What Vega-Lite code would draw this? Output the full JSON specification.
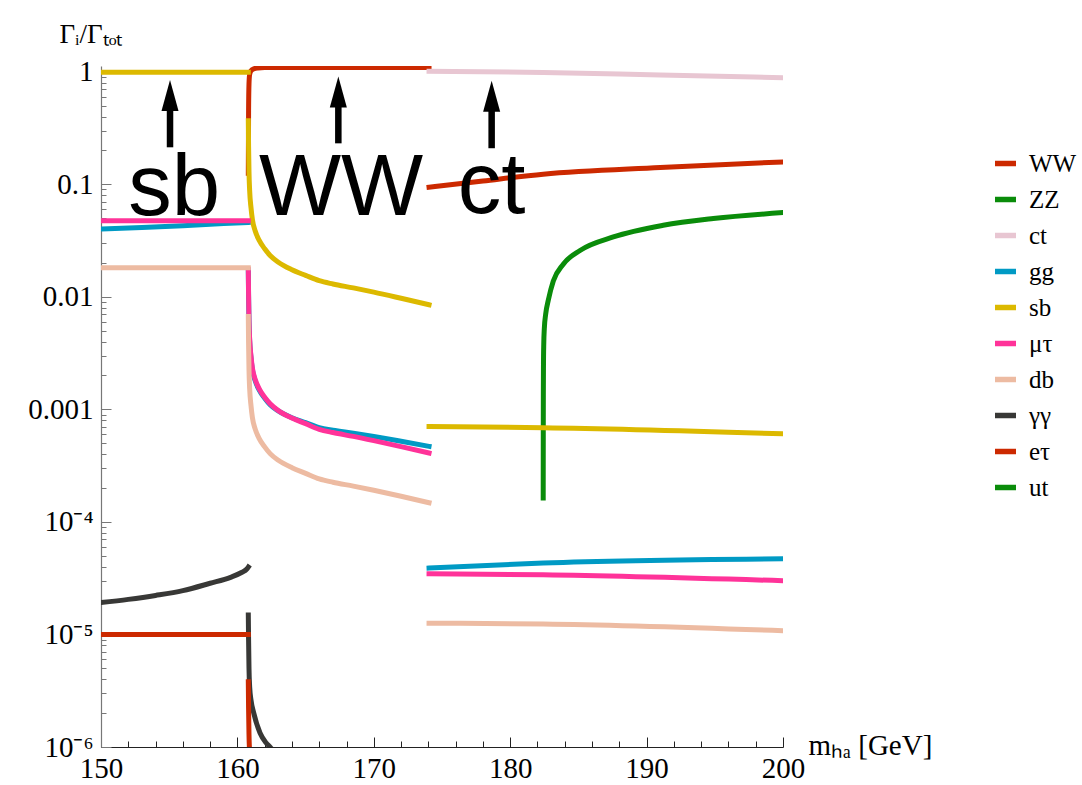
{
  "$schema": "https://vega.github.io/schema/vega-lite/v6.json",
  "autosize": {"type": "none"},
  "padding": {"left": 101, "top": 66, "right": 299, "bottom": 38},
  "width": 682,
  "height": 681,
  "background": "white",
  "config": {
    "view": {"stroke": null},
    "axis": {"grid": false, "labelFont": "Liberation Serif", "titleFont": "Liberation Serif", "labelColor": "black", "titleColor": "black", "titleFontWeight": "normal"},
    "legend": {"orient": "none", "legendX": 891, "legendY": 84, "symbolType": "stroke", "symbolStrokeWidth": 5.5, "symbolSize": 441, "labelFont": "Liberation Serif", "labelFontSize": 25, "labelColor": "black", "labelOffset": 10, "rowPadding": 9, "padding": 0, "title": null}
  },
  "resolve": {"axis": {"x": "independent"}},
  "datasets": {
    "curves": [
      {"s": "WW", "g": "WW2", "x": 160.80, "y": 0.125},
      {"s": "WW", "g": "WW2", "x": 160.82, "y": 0.45},
      {"s": "WW", "g": "WW2", "x": 160.85, "y": 0.78},
      {"s": "WW", "g": "WW2", "x": 160.90, "y": 0.95},
      {"s": "WW", "g": "WW2", "x": 161.00, "y": 1.02},
      {"s": "WW", "g": "WW2", "x": 161.20, "y": 1.06},
      {"s": "WW", "g": "WW2", "x": 161.50, "y": 1.08},
      {"s": "WW", "g": "WW2", "x": 162.00, "y": 1.09},
      {"s": "WW", "g": "WW2", "x": 174.05, "y": 1.09},
      {"s": "WW", "g": "WW3", "x": 174.05, "y": 0.094},
      {"s": "WW", "g": "WW3", "x": 178.00, "y": 0.107},
      {"s": "WW", "g": "WW3", "x": 182.42, "y": 0.123},
      {"s": "WW", "g": "WW3", "x": 191.00, "y": 0.141},
      {"s": "WW", "g": "WW3", "x": 200.00, "y": 0.158},
      {"s": "ZZ", "g": "ZZ3", "x": 182.420, "y": 0.000163},
      {"s": "ZZ", "g": "ZZ3", "x": 182.425, "y": 0.0006},
      {"s": "ZZ", "g": "ZZ3", "x": 182.430, "y": 0.0014},
      {"s": "ZZ", "g": "ZZ3", "x": 182.440, "y": 0.0025},
      {"s": "ZZ", "g": "ZZ3", "x": 182.460, "y": 0.0038},
      {"s": "ZZ", "g": "ZZ3", "x": 182.500, "y": 0.0052},
      {"s": "ZZ", "g": "ZZ3", "x": 182.600, "y": 0.0070},
      {"s": "ZZ", "g": "ZZ3", "x": 182.800, "y": 0.0094},
      {"s": "ZZ", "g": "ZZ3", "x": 183.160, "y": 0.0138},
      {"s": "ZZ", "g": "ZZ3", "x": 183.890, "y": 0.0195},
      {"s": "ZZ", "g": "ZZ3", "x": 185.120, "y": 0.0258},
      {"s": "ZZ", "g": "ZZ3", "x": 187.560, "y": 0.0340},
      {"s": "ZZ", "g": "ZZ3", "x": 191.220, "y": 0.0432},
      {"s": "ZZ", "g": "ZZ3", "x": 194.890, "y": 0.0496},
      {"s": "ZZ", "g": "ZZ3", "x": 200.000, "y": 0.0560},
      {"s": "ct", "g": "ct3", "x": 174.05, "y": 1.01},
      {"s": "ct", "g": "ct3", "x": 182.42, "y": 0.985},
      {"s": "ct", "g": "ct3", "x": 191.00, "y": 0.935},
      {"s": "ct", "g": "ct3", "x": 200.00, "y": 0.885},
      {"s": "gg", "g": "gg1", "x": 150.0, "y": 0.0401},
      {"s": "gg", "g": "gg1", "x": 153.0, "y": 0.0413},
      {"s": "gg", "g": "gg1", "x": 156.0, "y": 0.0428},
      {"s": "gg", "g": "gg1", "x": 159.0, "y": 0.0447},
      {"s": "gg", "g": "gg1", "x": 160.8, "y": 0.0458},
      {"s": "gg", "g": "gg2", "x": 160.80, "y": 0.01695},
      {"s": "gg", "g": "gg2", "x": 160.82, "y": 0.01008},
      {"s": "gg", "g": "gg2", "x": 160.85, "y": 0.00596},
      {"s": "gg", "g": "gg2", "x": 160.90, "y": 0.00404},
      {"s": "gg", "g": "gg2", "x": 161.00, "y": 0.00285},
      {"s": "gg", "g": "gg2", "x": 161.10, "y": 0.002254},
      {"s": "gg", "g": "gg2", "x": 161.30, "y": 0.001799},
      {"s": "gg", "g": "gg2", "x": 161.60, "y": 0.001482},
      {"s": "gg", "g": "gg2", "x": 162.00, "y": 0.001258},
      {"s": "gg", "g": "gg2", "x": 162.40, "y": 0.001101},
      {"s": "gg", "g": "gg2", "x": 163.00, "y": 0.000968},
      {"s": "gg", "g": "gg2", "x": 164.00, "y": 0.000843},
      {"s": "gg", "g": "gg2", "x": 165.00, "y": 0.000762},
      {"s": "gg", "g": "gg2", "x": 166.00, "y": 0.000689},
      {"s": "gg", "g": "gg2", "x": 167.00, "y": 0.000653},
      {"s": "gg", "g": "gg2", "x": 168.50, "y": 0.000615},
      {"s": "gg", "g": "gg2", "x": 170.00, "y": 0.000575},
      {"s": "gg", "g": "gg2", "x": 172.00, "y": 0.000521},
      {"s": "gg", "g": "gg2", "x": 174.05, "y": 0.000469},
      {"s": "gg", "g": "gg3", "x": 174.05, "y": 0.0000389},
      {"s": "gg", "g": "gg3", "x": 182.42, "y": 0.0000431},
      {"s": "gg", "g": "gg3", "x": 200.00, "y": 0.0000470},
      {"s": "sb", "g": "sb1", "x": 150.0, "y": 0.99},
      {"s": "sb", "g": "sb1", "x": 160.8, "y": 0.99},
      {"s": "sb", "g": "sb2", "x": 160.80, "y": 0.366},
      {"s": "sb", "g": "sb2", "x": 160.82, "y": 0.218},
      {"s": "sb", "g": "sb2", "x": 160.85, "y": 0.129},
      {"s": "sb", "g": "sb2", "x": 160.90, "y": 0.0871},
      {"s": "sb", "g": "sb2", "x": 161.00, "y": 0.0614},
      {"s": "sb", "g": "sb2", "x": 161.10, "y": 0.0485},
      {"s": "sb", "g": "sb2", "x": 161.30, "y": 0.0386},
      {"s": "sb", "g": "sb2", "x": 161.60, "y": 0.0317},
      {"s": "sb", "g": "sb2", "x": 162.00, "y": 0.0267},
      {"s": "sb", "g": "sb2", "x": 162.40, "y": 0.0233},
      {"s": "sb", "g": "sb2", "x": 163.00, "y": 0.0203},
      {"s": "sb", "g": "sb2", "x": 164.00, "y": 0.0174},
      {"s": "sb", "g": "sb2", "x": 165.00, "y": 0.0155},
      {"s": "sb", "g": "sb2", "x": 166.00, "y": 0.0139},
      {"s": "sb", "g": "sb2", "x": 167.00, "y": 0.0130},
      {"s": "sb", "g": "sb2", "x": 168.50, "y": 0.0120},
      {"s": "sb", "g": "sb2", "x": 170.00, "y": 0.0110},
      {"s": "sb", "g": "sb2", "x": 172.00, "y": 0.0097},
      {"s": "sb", "g": "sb2", "x": 174.05, "y": 0.0085},
      {"s": "sb", "g": "sb3", "x": 174.05, "y": 0.000703},
      {"s": "sb", "g": "sb3", "x": 182.42, "y": 0.000688},
      {"s": "sb", "g": "sb3", "x": 200.00, "y": 0.000606},
      {"s": "μτ", "g": "mt1", "x": 150.0, "y": 0.0475},
      {"s": "μτ", "g": "mt1", "x": 160.8, "y": 0.0475},
      {"s": "μτ", "g": "mt2", "x": 160.80, "y": 0.0176},
      {"s": "μτ", "g": "mt2", "x": 160.82, "y": 0.01045},
      {"s": "μτ", "g": "mt2", "x": 160.85, "y": 0.00618},
      {"s": "μτ", "g": "mt2", "x": 160.90, "y": 0.00418},
      {"s": "μτ", "g": "mt2", "x": 161.00, "y": 0.00295},
      {"s": "μτ", "g": "mt2", "x": 161.10, "y": 0.00233},
      {"s": "μτ", "g": "mt2", "x": 161.30, "y": 0.00185},
      {"s": "μτ", "g": "mt2", "x": 161.60, "y": 0.00152},
      {"s": "μτ", "g": "mt2", "x": 162.00, "y": 0.00128},
      {"s": "μτ", "g": "mt2", "x": 162.40, "y": 0.00112},
      {"s": "μτ", "g": "mt2", "x": 163.00, "y": 0.000974},
      {"s": "μτ", "g": "mt2", "x": 164.00, "y": 0.000836},
      {"s": "μτ", "g": "mt2", "x": 165.00, "y": 0.000746},
      {"s": "μτ", "g": "mt2", "x": 166.00, "y": 0.000665},
      {"s": "μτ", "g": "mt2", "x": 167.00, "y": 0.000622},
      {"s": "μτ", "g": "mt2", "x": 168.50, "y": 0.000575},
      {"s": "μτ", "g": "mt2", "x": 170.00, "y": 0.000527},
      {"s": "μτ", "g": "mt2", "x": 172.00, "y": 0.000466},
      {"s": "μτ", "g": "mt2", "x": 174.05, "y": 0.000409},
      {"s": "μτ", "g": "mt3", "x": 174.05, "y": 0.0000346},
      {"s": "μτ", "g": "mt3", "x": 182.42, "y": 0.0000339},
      {"s": "μτ", "g": "mt3", "x": 200.00, "y": 0.0000300},
      {"s": "db", "g": "db1", "x": 150.0, "y": 0.0181},
      {"s": "db", "g": "db1", "x": 160.8, "y": 0.0181},
      {"s": "db", "g": "db2", "x": 160.80, "y": 0.0067},
      {"s": "db", "g": "db2", "x": 160.82, "y": 0.00385},
      {"s": "db", "g": "db2", "x": 160.85, "y": 0.00226},
      {"s": "db", "g": "db2", "x": 160.90, "y": 0.00152},
      {"s": "db", "g": "db2", "x": 161.00, "y": 0.00107},
      {"s": "db", "g": "db2", "x": 161.10, "y": 0.000843},
      {"s": "db", "g": "db2", "x": 161.30, "y": 0.000671},
      {"s": "db", "g": "db2", "x": 161.60, "y": 0.000550},
      {"s": "db", "g": "db2", "x": 162.00, "y": 0.000464},
      {"s": "db", "g": "db2", "x": 162.40, "y": 0.000404},
      {"s": "db", "g": "db2", "x": 163.00, "y": 0.000353},
      {"s": "db", "g": "db2", "x": 164.00, "y": 0.000303},
      {"s": "db", "g": "db2", "x": 165.00, "y": 0.000270},
      {"s": "db", "g": "db2", "x": 166.00, "y": 0.000241},
      {"s": "db", "g": "db2", "x": 167.00, "y": 0.000225},
      {"s": "db", "g": "db2", "x": 168.50, "y": 0.000208},
      {"s": "db", "g": "db2", "x": 170.00, "y": 0.000191},
      {"s": "db", "g": "db2", "x": 172.00, "y": 0.000169},
      {"s": "db", "g": "db2", "x": 174.05, "y": 0.000148},
      {"s": "db", "g": "db3", "x": 174.05, "y": 0.0000126},
      {"s": "db", "g": "db3", "x": 182.42, "y": 0.0000124},
      {"s": "db", "g": "db3", "x": 200.00, "y": 0.0000108},
      {"s": "γγ", "g": "aa1", "x": 150.0, "y": 0.0000192},
      {"s": "γγ", "g": "aa1", "x": 152.0, "y": 0.0000205},
      {"s": "γγ", "g": "aa1", "x": 154.0, "y": 0.0000222},
      {"s": "γγ", "g": "aa1", "x": 156.0, "y": 0.0000245},
      {"s": "γγ", "g": "aa1", "x": 158.0, "y": 0.0000285},
      {"s": "γγ", "g": "aa1", "x": 159.5, "y": 0.0000322},
      {"s": "γγ", "g": "aa1", "x": 160.3, "y": 0.0000355},
      {"s": "γγ", "g": "aa1", "x": 160.7, "y": 0.0000382},
      {"s": "γγ", "g": "aa1", "x": 160.8, "y": 0.0000397},
      {"s": "γγ", "g": "aa2", "x": 160.80, "y": 0.0000149},
      {"s": "γγ", "g": "aa2", "x": 160.82, "y": 0.0000090},
      {"s": "γγ", "g": "aa2", "x": 160.85, "y": 0.0000050},
      {"s": "γγ", "g": "aa2", "x": 160.90, "y": 0.0000034},
      {"s": "γγ", "g": "aa2", "x": 161.00, "y": 0.0000026},
      {"s": "γγ", "g": "aa2", "x": 161.20, "y": 0.0000020},
      {"s": "γγ", "g": "aa2", "x": 161.66, "y": 0.00000133},
      {"s": "γγ", "g": "aa2", "x": 162.10, "y": 0.00000109},
      {"s": "γγ", "g": "aa2", "x": 162.40, "y": 0.00000100},
      {"s": "γγ", "g": "aa2", "x": 162.60, "y": 0.00000093},
      {"s": "eτ", "g": "et1", "x": 150.0, "y": 0.00001},
      {"s": "eτ", "g": "et1", "x": 160.8, "y": 0.00001},
      {"s": "eτ", "g": "et2", "x": 160.80, "y": 0.0000038},
      {"s": "eτ", "g": "et2", "x": 160.82, "y": 0.0000022},
      {"s": "eτ", "g": "et2", "x": 160.85, "y": 0.0000013},
      {"s": "eτ", "g": "et2", "x": 160.90, "y": 0.00000088},
      {"s": "eτ", "g": "et2", "x": 161.00, "y": 0.00000062}
    ],
    "labels": [
      {"t": "sb", "x": 155.37, "y": 0.0534},
      {"t": "WW", "x": 167.6, "y": 0.0534},
      {"t": "ct", "x": 178.64, "y": 0.056}
    ],
    "arrows": [
      {"x": 155.06, "lo": 0.213, "hi": 0.5, "head": 0.616},
      {"x": 167.40, "lo": 0.231, "hi": 0.54, "head": 0.662},
      {"x": 178.64, "lo": 0.209, "hi": 0.49, "head": 0.606}
    ]
  },
  "layer": [
    {
      "data": {"name": "curves"},
      "mark": {"type": "line", "strokeWidth": 5, "strokeCap": "square", "strokeJoin": "round", "clip": true, "interpolate": "monotone"},
      "encoding": {
        "x": {
          "field": "x", "type": "quantitative",
          "scale": {"domain": [150, 200], "nice": false, "zero": false},
          "axis": {
            "orient": "bottom",
            "values": [150, 160, 170, 180, 190, 200],
            "labelFontSize": 29, "labelPadding": 17, "labelOverlap": false, "labelBound": false, "labelFlush": false,
            "tickSize": -10, "tickColor": "#222", "domainColor": "#222", "tickWidth": 1, "domainWidth": 1.2,
            "title": "mₕₐ  [GeV]", "titleFontSize": 29, "titleX": 707, "titleY": -2, "titleAlign": "left", "titleBaseline": "middle", "titleAnchor": "start"
          }
        },
        "y": {
          "field": "y", "type": "quantitative",
          "scale": {"type": "log", "domain": [0.000001, 1.124], "nice": false},
          "axis": {
            "values": [0.000001,0.000002,0.000003,0.000004,0.000005,0.000006,0.000007,0.000008,0.000009,0.00001,0.00002,0.00003,0.00004,0.00005,0.00006,0.00007,0.00008,0.00009,0.0001,0.0002,0.0003,0.0004,0.0005,0.0006,0.0007,0.0008,0.0009,0.001,0.002,0.003,0.004,0.005,0.006,0.007,0.008,0.009,0.01,0.02,0.03,0.04,0.05,0.06,0.07,0.08,0.09,0.1,0.2,0.3,0.4,0.5,0.6,0.7,0.8,0.9,1],
            "labelExpr": "abs(log(datum.value)/LN10 - round(log(datum.value)/LN10)) > 0.01 ? '' : datum.value > 0.5 ? '1' : datum.value > 0.05 ? '0.1' : datum.value > 0.005 ? '0.01' : datum.value > 0.0005 ? '0.001' : datum.value > 0.00005 ? '10⁻⁴' : datum.value > 0.000005 ? '10⁻⁵' : '10⁻⁶'",
            "labelFontSize": 29, "labelPadding": 18, "labelOverlap": false, "labelBound": false, "labelFlush": false, "labelBaseline": "middle",
            "tickSize": {"condition": {"test": "abs(log(datum.value)/LN10 - round(log(datum.value)/LN10)) < 0.01", "value": -10}, "value": -5},
            "tickColor": "#777", "domainColor": "#777", "tickWidth": 1, "domainWidth": 1.2,
            "title": "Γᵢ/Γₜₒₜ", "titleFontSize": 27, "titleAngle": 0, "titleX": -42, "titleY": -24, "titleAlign": "left", "titleBaseline": "alphabetic", "titleAnchor": "start"
          }
        },
        "color": {
          "field": "s", "type": "nominal",
          "scale": {"domain": ["WW", "ZZ", "ct", "gg", "sb", "μτ", "db", "γγ", "eτ", "ut"],
                    "range": ["#cc2900", "#0a8c0a", "#e8c6d2", "#009ac4", "#dcb900", "#ff3399", "#edbba2", "#383836", "#cc2900", "#0a8c0a"]},
          "legend": {}
        },
        "detail": {"field": "g", "type": "nominal"}
      }
    },
    {
      "data": {"name": "arrows"},
      "mark": {"type": "rule", "strokeWidth": 6.5, "color": "black", "strokeCap": "butt"},
      "encoding": {
        "x": {
          "field": "x", "type": "quantitative",
          "axis": {
            "orient": "bottom", "offset": 0,
            "values": [152,154,156,158,162,164,166,168,172,174,176,178,182,184,186,188,192,194,196,198],
            "labels": false, "domain": false, "title": null,
            "tickSize": -6, "tickColor": "#222", "tickWidth": 1
          }
        },
        "y": {"field": "lo", "type": "quantitative"},
        "y2": {"field": "hi"}
      }
    },
    {
      "data": {"name": "arrows"},
      "mark": {"type": "point", "filled": true, "color": "black", "opacity": 1, "size": 961, "shape": "M0,-1L0.55,1L-0.55,1Z"},
      "encoding": {
        "x": {"field": "x", "type": "quantitative", "axis": null},
        "y": {"field": "head", "type": "quantitative"}
      }
    },
    {
      "data": {"name": "labels"},
      "mark": {"type": "text", "font": "Liberation Sans", "fontSize": 87, "color": "black", "align": "center", "baseline": "alphabetic"},
      "encoding": {
        "x": {"field": "x", "type": "quantitative", "axis": null},
        "y": {"field": "y", "type": "quantitative"},
        "text": {"field": "t"}
      }
    }
  ]
}
